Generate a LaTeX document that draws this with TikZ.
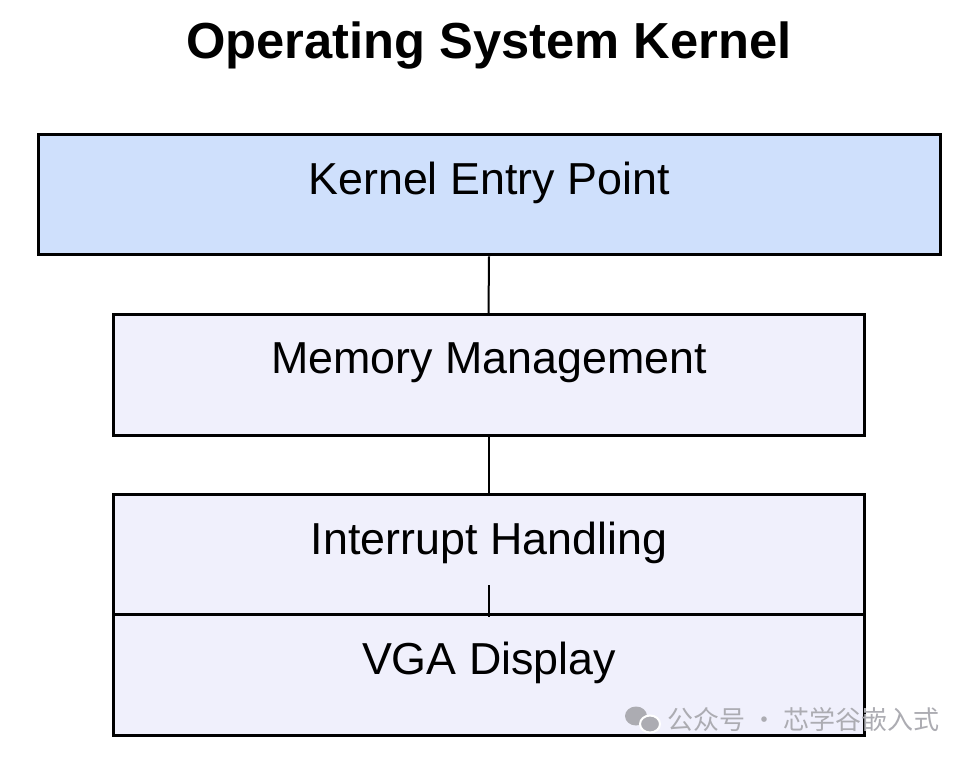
\documentclass[tikz,border=0pt]{standalone}
\usepackage{fontspec}
\setmainfont{Liberation Sans}
\newfontfamily\cjk{Noto Sans CJK SC}

\definecolor{entryblue}{RGB}{207,224,252}
\definecolor{layerlav}{RGB}{240,240,252}
\definecolor{markgrey}{RGB}{172,172,178}

\tikzset{every picture/.style={line width=0.75pt}}
\tikzset{
  layerbox/.style={draw=black, line width=2.25pt, rectangle, inner sep=0pt, minimum height=90.4pt},
  layertext/.style={anchor=center, inner sep=0.75pt, font=\fontsize{33.6pt}{38pt}\selectfont},
  link/.style={draw=black, line width=1.5pt}
}

\begin{document}
\begin{tikzpicture}[x=0.75pt,y=0.75pt,yscale=-1,xscale=1]
\useasboundingbox (0,0) rectangle (966,759);

% Boxes
\node [layerbox, fill=entryblue, minimum width=676.5pt] (entry) at (489,194.5) {};
\node [layerbox, fill=layerlav, minimum width=563.25pt] (memory) at (488.5,375) {};
\node [layerbox, fill=layerlav, minimum width=563.25pt] (irq) at (488.5,555) {};
\node [layerbox, fill=layerlav, minimum width=563.25pt] (vga) at (488.5,675) {};

% Links
\draw [link] (entry.south) -- (memory.north) ;
\draw [link] (memory.south) -- (irq.north) ;
\coordinate (irqstub) at (488.5,585) ;
\draw [link] (irq.south) -- (irqstub) ;

% Text Node
\node [anchor=center, inner sep=0.75pt, font=\fontsize{38pt}{44pt}\selectfont\bfseries] (title) at (489,46) {Operating System Kernel};
% Text Node
\node [layertext] (entrylabel) at (489,183) {Kernel Entry Point};
% Text Node
\node [layertext] (memorylabel) at (489,363) {Memory Management};
% Text Node
\node [layertext] (irqlabel) at (489,543) {Interrupt Handling};
% Text Node
\node [layertext] (vgalabel) at (489,663) {VGA Display};

% Watermark
\fill [markgrey] (636,716) ellipse [x radius=11, y radius=9.5] ;
\fill [markgrey, draw=white, line width=1.5pt] (650,724) ellipse [x radius=10, y radius=8.5] ;
\node [anchor=west, inner sep=0pt, text=markgrey, font=\cjk\fontsize{19.5pt}{22pt}\selectfont] (mark) at (667,720) {公众号 · 芯学谷嵌入式};

\end{tikzpicture}
\end{document}
